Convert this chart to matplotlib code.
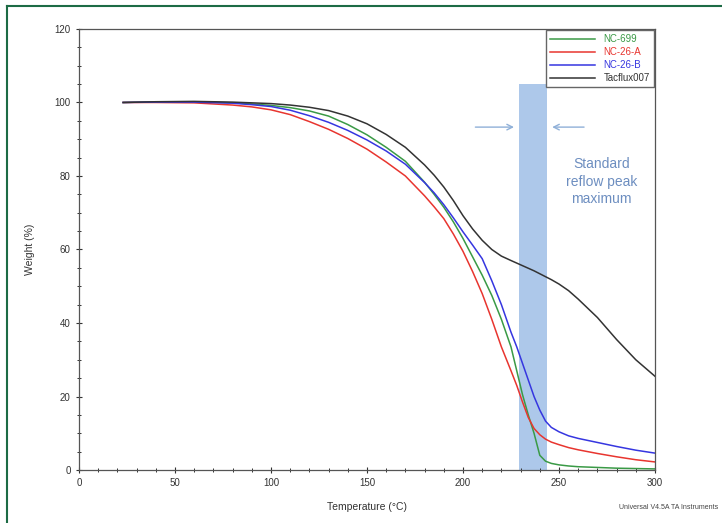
import matplotlib
matplotlib.use("Agg")
import matplotlib.pyplot as plt
from matplotlib.lines import Line2D
from matplotlib.ticker import MultipleLocator

plt.rcParams["font.family"] = ["Liberation Sans", "DejaVu Sans"]

# --------------------------------------------------------------------------- #
# data
# --------------------------------------------------------------------------- #
temp = [23, 40, 60, 80, 90, 100, 110, 120, 130, 140, 150, 160, 170, 180, 185,
        190, 195, 200, 205, 210, 215, 220, 225, 228, 231, 234, 237, 240, 243,
        246, 250, 255, 260, 270, 280, 290, 300]

nc699 = [100, 100.2, 100.2, 99.9, 99.6, 99.2, 98.6, 97.7, 96.3, 94.0, 91.2, 87.8,
         84.0, 78.3, 75.0, 71.5, 67.5, 63.0, 58.0, 53.0, 47.5, 41.0, 33.5, 27.0,
         20.5, 15.0, 10.0, 4.0, 2.4, 1.8, 1.4, 1.1, 0.9, 0.7, 0.5, 0.4, 0.3]
nc26a = [100, 100, 99.9, 99.3, 98.8, 98.0, 96.7, 94.8, 92.7, 90.2, 87.3, 83.8,
         80.0, 74.6, 71.6, 68.4, 64.2, 59.5, 54.0, 48.0, 41.0, 33.5, 27.0, 23.0,
         18.5, 14.3, 11.3, 9.6, 8.4, 7.6, 6.9, 6.1, 5.5, 4.5, 3.6, 2.8, 2.2]
nc26b = [100, 100.1, 100.1, 99.8, 99.4, 98.9, 97.9, 96.4, 94.6, 92.4, 89.8, 86.8,
         83.2, 78.2, 75.4, 72.2, 68.6, 64.8, 61.2, 57.5, 51.5, 45.0, 37.5, 33.5,
         29.0, 24.5, 20.0, 16.3, 13.3, 11.6, 10.4, 9.3, 8.6, 7.5, 6.4, 5.4, 4.6]
tacflux = [100, 100.2, 100.3, 100.1, 99.9, 99.7, 99.3, 98.7, 97.8, 96.3, 94.2,
           91.3, 87.8, 83.0, 80.2, 77.0, 73.3, 69.2, 65.6, 62.5, 60.0, 58.2, 57.0,
           56.3, 55.6, 54.9, 54.2, 53.4, 52.6, 51.8, 50.6, 48.8, 46.5, 41.5, 35.5,
           30.0, 25.5]

series_names = ["NC-699", "NC-26-A", "NC-26-B", "Tacflux007"]
series_colors = ["#3a9a46", "#e8352f", "#3636e0", "#333333"]

reflow_lo, reflow_hi, reflow_top = 229, 244, 105

# --------------------------------------------------------------------------- #
fig = plt.figure(figsize=(7.22, 5.23), dpi=100)
ax = fig.add_axes([0.1094, 0.1013, 0.7978, 0.8433])

# reflow window band
ax.bar((reflow_lo + reflow_hi) / 2, reflow_top, width=reflow_hi - reflow_lo,
       color="#adc8ea", edgecolor="none", zorder=1)

for y, c in zip([nc699, nc26a, nc26b, tacflux], series_colors):
    ax.plot(temp, y, color=c, lw=1.1, zorder=2)

arrow_c = "#8fb0d8"
ax.annotate("", xy=(228, 93.3), xytext=(205, 93.3),
            arrowprops=dict(arrowstyle="->", color=arrow_c, lw=1))
ax.annotate("", xy=(245, 93.3), xytext=(264.5, 93.3),
            arrowprops=dict(arrowstyle="->", color=arrow_c, lw=1))
ax.text(272, 78.5, "Standard\nreflow peak\nmaximum", ha="center", va="center",
        color="#6d8ec0", fontsize=10, linespacing=1.35)

ax.set_xlim(0, 300)
ax.set_ylim(0, 120)
ax.xaxis.set_major_locator(MultipleLocator(50))
ax.xaxis.set_minor_locator(MultipleLocator(10))
ax.yaxis.set_major_locator(MultipleLocator(20))
ax.yaxis.set_minor_locator(MultipleLocator(5))
ax.tick_params(which="major", direction="inout", length=5, width=0.8,
               labelsize=7, colors="#333333")
ax.tick_params(which="minor", direction="inout", length=3, width=0.7,
               colors="#333333")
for s in ax.spines.values():
    s.set_color("#555555")
    s.set_linewidth(0.9)

ax.set_xlabel("Temperature (°C)", fontsize=7.5, color="#333333", labelpad=10)
ax.set_ylabel("Weight (%)", fontsize=7.5, color="#333333", labelpad=14)

handles = [Line2D([], [], color=c, lw=1.1) for c in series_colors]
leg = ax.legend(handles, series_names, loc="upper right", fontsize=7,
                labelcolor=series_colors, fancybox=False, edgecolor="#666666",
                framealpha=1, borderaxespad=0.1, handlelength=4.6,
                handletextpad=0.9, borderpad=0.45, labelspacing=0.3)
leg.get_frame().set_linewidth(1.0)

fig.text(0.995, 0.03, "Universal V4.5A TA Instruments", ha="right", va="center",
         fontsize=5, color="#444444")

# green page frame (left and top edges only visible)
fig.add_artist(Line2D([0.0097, 0.0097], [0.0, 0.988], color="#1d6b45", lw=1.5))
fig.add_artist(Line2D([0.0097, 1.0], [0.988, 0.988], color="#1d6b45", lw=1.5))

fig.savefig("out.png", dpi=100)
